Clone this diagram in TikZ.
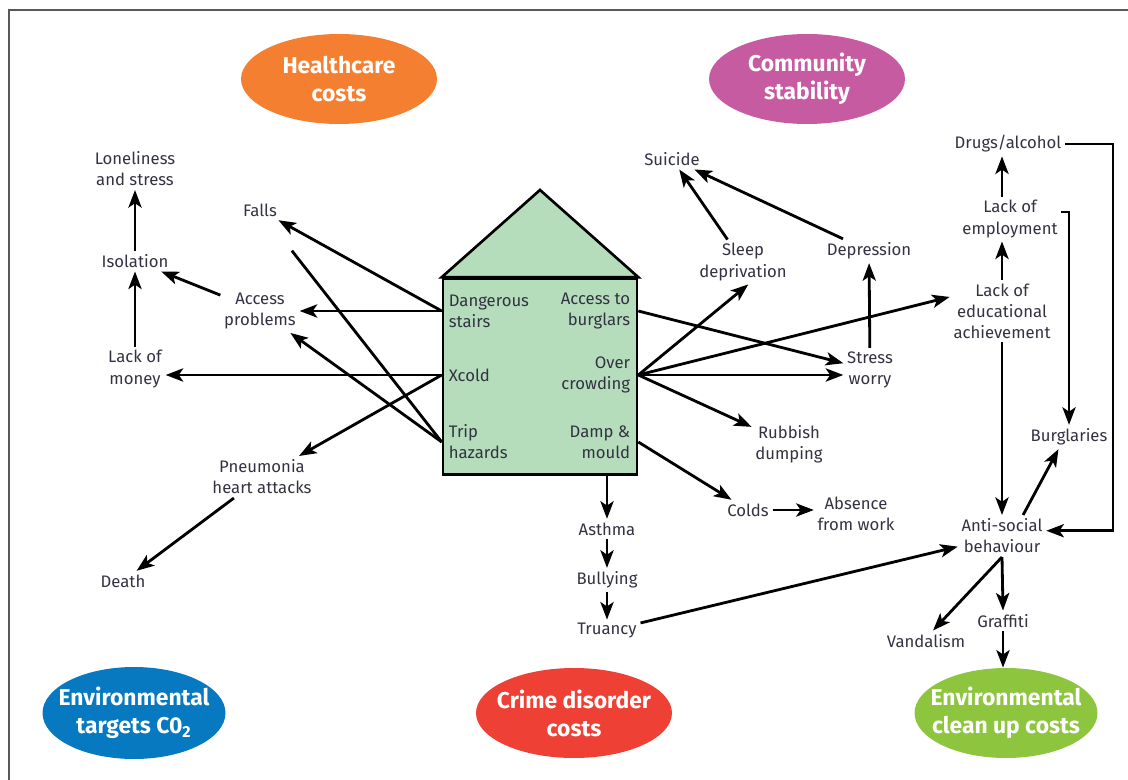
\documentclass[tikz,border=0pt]{standalone}
\usepackage{fontspec}
\setmainfont{Fira Sans}
\usetikzlibrary{shapes.geometric, arrows.meta, calc}

\definecolor{txtc}{RGB}{50,50,66}
\definecolor{housec}{RGB}{181,221,187}
\definecolor{healthc}{RGB}{244,127,48}
\definecolor{communc}{RGB}{199,91,161}
\definecolor{co2c}{RGB}{7,121,192}
\definecolor{crimec}{RGB}{238,64,53}
\definecolor{cleanc}{RGB}{141,197,63}

\begin{document}
\begin{tikzpicture}[x=0.02cm, y=-0.02cm,
		cause/.style={align=center, text=txtc, font=\fontsize{9.5}{12}\selectfont, inner sep=2pt},
		cost/.style={ellipse, minimum width=3.92cm, minimum height=1.8cm, inner sep=0pt},
		costtxt/.style={align=center, text=white, font=\fontsize{13}{16}\selectfont\bfseries},
		arr/.style={-{Stealth[length=10pt, width=7.5pt, inset=2.5pt]}, line width=1.6pt},
		link/.style={line width=1.6pt}]
		
		\useasboundingbox (0,0) rectangle (1128,780);
		\draw[black!65, line width=1.1pt] (9,780) -- (9,10) -- (1128,10);
		
		\node[cost, fill=healthc] (health) at (339,79) {};
		\node[costtxt] (healthtxt) at (health) {Healthcare\\costs};
		\node[cost, fill=communc] (commun) at (807,79) {};
		\node[costtxt] (communtxt) at (commun) {Community\\stability};
		\node[cost, fill=co2c, minimum width=3.66cm, minimum height=1.84cm] (co2) at (134,713) {};
		\node[costtxt] (co2txt) at (co2) {Environmental\\targets C0\textsubscript{2}};
		\node[cost, fill=crimec] (crime) at (574,713) {};
		\node[costtxt] (crimetxt) at (crime) {Crime disorder\\costs};
		\node[cost, fill=cleanc, minimum width=3.66cm] (clean) at (1006,713) {};
		\node[costtxt] (cleantxt) at (clean) {Environmental\\clean up costs};
		
		% the house
		\node[draw, line width=1.5pt, fill=housec, minimum width=3.88cm, minimum height=3.92cm, inner sep=0pt] (house) at (540,376.5) {};
		\coordinate (apex) at (540,190);
		\draw[fill=housec, line width=1.5pt, line join=miter] (house.north west) -- (apex) -- (house.north east) -- cycle;
		
		\node[cause, anchor=west, align=left] (stairs) at (445,311) {Dangerous\\stairs};
		\node[cause, anchor=west, align=left] (xcold) at (445,375) {Xcold};
		\node[cause, anchor=west, align=left] (trip) at (445,442) {Trip\\hazards};
		\node[cause, anchor=east, align=right] (burglars) at (634,311) {Access to\\burglars};
		\node[cause, anchor=east, align=right] (crowd) at (634,375) {Over\\crowding};
		\node[cause, anchor=east, align=right] (damp) at (634,442) {Damp \&\\mould};
		
		% left side
		\node[cause] (lonely) at (135,169) {Loneliness\\and stress};
		\node[cause] (isolation) at (135,261) {Isolation};
		\draw[arr] (isolation) -- (lonely);
		\node[cause] (money) at (135,369) {Lack of\\money};
		\draw[arr] (money) -- (isolation);
		\node[cause] (access) at (260,311) {Access\\problems};
		\draw[arr] (access) -- (isolation);
		\node[cause] (falls) at (260,210) {Falls};
		\node[cause] (pneu) at (262,477) {Pneumonia\\heart attacks};
		\node[cause] (death) at (123,581) {Death};
		\draw[arr] (pneu) -- (death);
		
		\draw[arr] (house.west |- stairs) -- (falls);
		\draw[arr] (house.west |- access) -- (access);
		\draw[arr] (house.west |- xcold) -- (xcold -| money.east);
		\draw[arr] (house.west |- xcold) -- (pneu);
		\draw[arr] (house.west |- trip) -- (access);
		\draw[link, shorten >=22pt] (house.west |- trip) -- (falls);
		
		% right side
		\node[cause] (suicide) at (672,159) {Suicide};
		\node[cause] (sleep) at (743,262) {Sleep\\deprivation};
		\draw[arr] (sleep) -- (suicide);
		\node[cause] (depress) at (869,251) {Depression};
		\draw[arr] (depress) -- (suicide);
		\node[cause] (stress) at (870,370) {Stress\\worry};
		\draw[arr] (stress) -- (depress);
		\node[cause] (rubbish) at (789,444) {Rubbish\\dumping};
		\node[cause] (colds) at (748,510) {Colds};
		\node[cause] (absence) at (856,514) {Absence\\from work};
		\draw[arr] (colds) -- (colds -| absence.west);
		
		\draw[arr] (house.east |- burglars) -- (stress);
		\draw[arr] (house.east |- crowd) -- (crowd -| stress.west);
		\draw[arr] (house.east |- crowd) -- ([xshift=3pt]sleep.south);
		\draw[arr] (house.east |- crowd) -- (rubbish);
		\draw[arr] (house.east |- damp) -- (colds);
		
		\node[cause] (asthma) at (607,529) {Asthma};
		\draw[arr] (asthma |- house.south) -- (asthma);
		\node[cause] (bully) at (607,580) {Bullying};
		\draw[arr] (asthma) -- (bully);
		\node[cause] (truancy) at (607,631) {Truancy};
		\draw[arr] (bully) -- (truancy);
		
		% far right
		\node[cause] (edu) at (1002,311) {Lack of\\educational\\achievement};
		\draw[arr] (house.east |- crowd) -- ([yshift=8pt]edu.west);
		\node[cause] (employ) at (1010,219) {Lack of\\employment};
		\draw[arr] (edu.north) -- (edu.north |- employ.south);
		\node[cause] (drugs) at (1008,144) {Drugs/alcohol};
		\draw[arr] (edu.north |- employ.north) -- (edu.north |- drugs.south);
		\node[cause] (burgl) at (1069,437) {Burglaries};
		\draw[arr] ([yshift=4pt]employ.east) -| (burgl.north);
		\node[cause] (anti) at (1002,536) {Anti-social\\behaviour};
		\draw[arr] (edu.south) -- (anti.north);
		\draw[arr] ([xshift=12pt]anti.north) -- ([xshift=-6pt]burgl.south);
		\coordinate (rail) at (1113,0);
		\draw[arr] (drugs.east) -- (drugs.east -| rail) |- ([yshift=3pt]anti.east);
		\draw[arr] (truancy) -- (anti);
		\node[cause] (vandal) at (926,641) {Vandalism};
		\draw[arr] (anti.south) -- ([xshift=4pt]vandal.north);
		\node[cause] (graffiti) at (1003,621) {Graffiti};
		\draw[arr] (anti.south) -- (graffiti.north);
		\draw[arr] (graffiti.south) -- (graffiti.south |- clean.north);
		
\end{tikzpicture}
\end{document}
